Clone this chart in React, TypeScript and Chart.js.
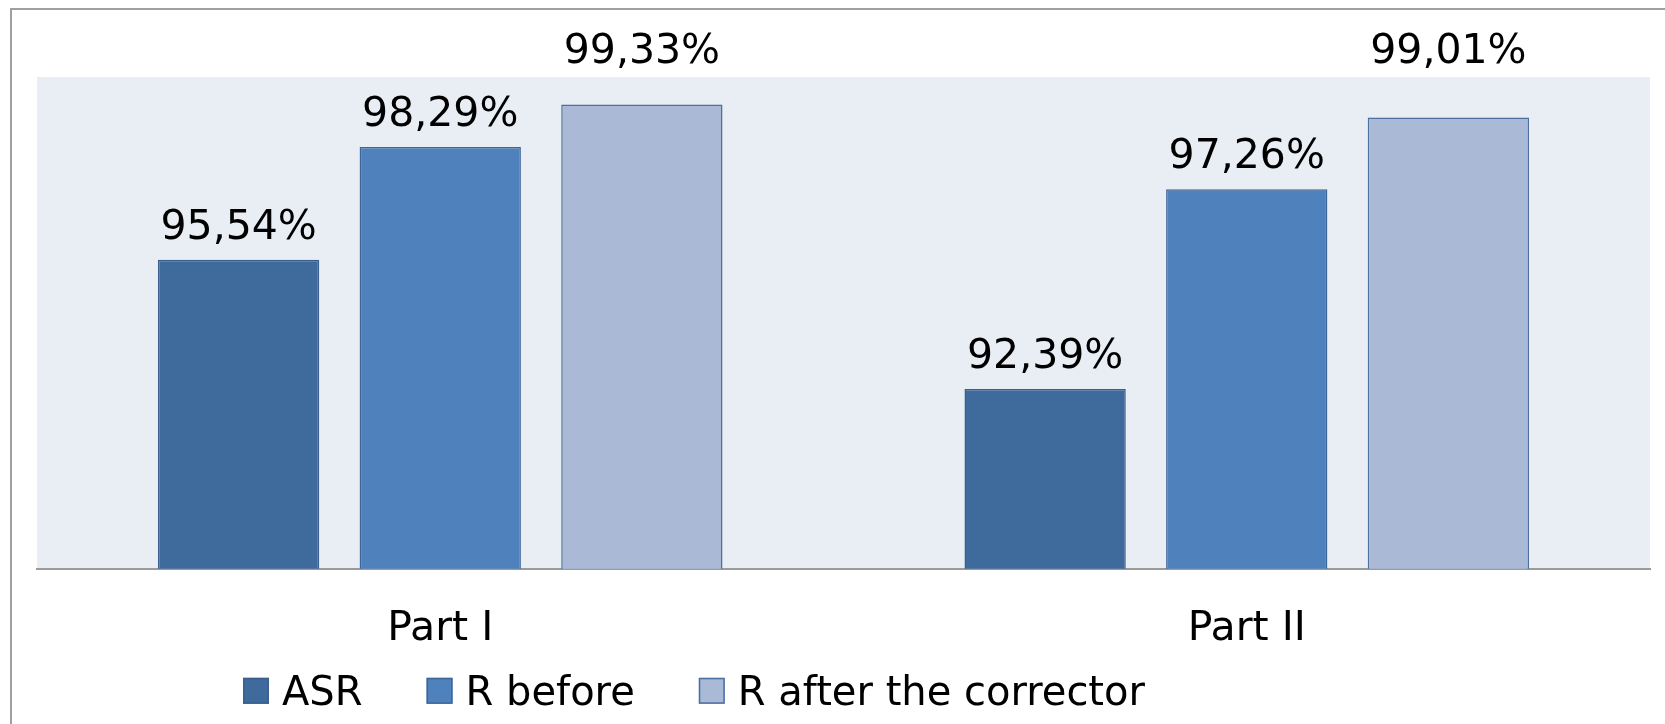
import React, { useEffect, useRef } from "react";
import { Chart, registerables } from "chart.js";

Chart.register(...registerables);

const categories = ["Part I", "Part II"];
const seriesNames = ["ASR", "R before", "R after the corrector"];
const asrValues = [95.54, 92.39];
const rBeforeValues = [98.29, 97.26];
const rAfterValues = [99.33, 99.01];
const seriesColors = ["#3F6A9C", "#4F81BD", "#AAB9D6"];
const borderColors = ["#3A5F8E", "#3C679A", "#4A6FA0"];
const yMin = 88;
const yMax = 100;

const FONT = "'DejaVu Sans', Verdana, sans-serif";

const frameAndBg = {
  id: "frameAndBg",
  beforeDraw(chart: any) {
    const { ctx, chartArea } = chart;
    ctx.save();
    ctx.fillStyle = "#ffffff";
    ctx.fillRect(0, 0, chart.width, chart.height);
    ctx.strokeStyle = "#A0A0A0";
    ctx.lineWidth = 2;
    ctx.beginPath();
    ctx.moveTo(11, chart.height + 5);
    ctx.lineTo(11, 9);
    ctx.lineTo(chart.width + 5, 9);
    ctx.stroke();
    ctx.fillStyle = "#E9EDF4";
    ctx.fillRect(chartArea.left, chartArea.top, chartArea.right - chartArea.left, chartArea.bottom - chartArea.top);
    ctx.restore();
  },
};

const valueLabels = {
  id: "valueLabels",
  afterDatasetsDraw(chart: any) {
    const { ctx, chartArea } = chart;
    ctx.save();
    ctx.font = `41px ${FONT}`;
    ctx.fillStyle = "#000000";
    ctx.textAlign = "center";
    ctx.textBaseline = "alphabetic";
    chart.data.datasets.forEach((ds: any, di: number) => {
      const meta = chart.getDatasetMeta(di);
      meta.data.forEach((el: any, i: number) => {
        const v = ds.data[i];
        const txt = v.toFixed(2).replace(".", ",") + "%";
        let base = el.y - 21;
        if (base - 32 < chartArea.top) base = chartArea.top - 14;
        ctx.fillText(txt, el.x, base);
      });
    });
    ctx.restore();
  },
};

const customLegend = {
  id: "customLegend",
  afterDraw(chart: any) {
    const { ctx, chartArea } = chart;
    ctx.save();
    ctx.font = `40px ${FONT}`;
    ctx.textBaseline = "alphabetic";
    ctx.textAlign = "left";
    let x = chartArea.left + 206;
    const boxTop = chartArea.bottom + 109;
    const box = 26;
    chart.data.datasets.forEach((ds: any) => {
      ctx.fillStyle = ds.backgroundColor;
      ctx.fillRect(x, boxTop, box, box);
      ctx.strokeStyle = ds.borderColor;
      ctx.lineWidth = 1.5;
      ctx.strokeRect(x + 0.75, boxTop + 0.75, box - 1.5, box - 1.5);
      ctx.fillStyle = "#000000";
      const tx = x + box + 13;
      ctx.fillText(ds.label, tx, boxTop + 27);
      x = tx + ctx.measureText(ds.label).width + 64;
    });
    ctx.restore();
  },
};

export default function App() {
  const ref = useRef<HTMLCanvasElement | null>(null);
  useEffect(() => {
    if (!ref.current) return;
    const values = [asrValues, rBeforeValues, rAfterValues];
    const chart = new Chart(ref.current, {
      type: "bar",
      data: {
        labels: categories,
        datasets: seriesNames.map((name, i) => ({
          label: name,
          data: values[i],
          backgroundColor: seriesColors[i],
          borderColor: borderColors[i],
          borderWidth: 1.5,
          categoryPercentage: 0.75,
          barPercentage: 0.8,
        })),
      },
      options: {
        animation: false,
        responsive: false,
        devicePixelRatio: 1,
        layout: { padding: { left: 37, right: 15, top: 77, bottom: 34 } },
        plugins: {
          legend: { display: false },
          tooltip: { enabled: false },
          title: { display: false },
        },
        scales: {
          x: {
            grid: { display: false, drawTicks: false },
            border: { display: true, color: "#9B9B9B", width: 2 },
            ticks: {
              color: "#000000",
              font: { family: FONT, size: 41 },
              padding: 36,
            },
          },
          y: {
            display: false,
            min: yMin,
            max: yMax,
            grid: { display: false },
          },
        },
      },
      plugins: [frameAndBg, valueLabels, customLegend],
    });
    return () => chart.destroy();
  }, []);
  return (
    <div style={{ position: "fixed", left: 0, top: 0, width: 1665, height: 724, background: "#fff", overflow: "hidden" }}>
      <canvas ref={ref} width={1665} height={724} style={{ display: "block", width: 1665, height: 724 }} />
    </div>
  );
}
